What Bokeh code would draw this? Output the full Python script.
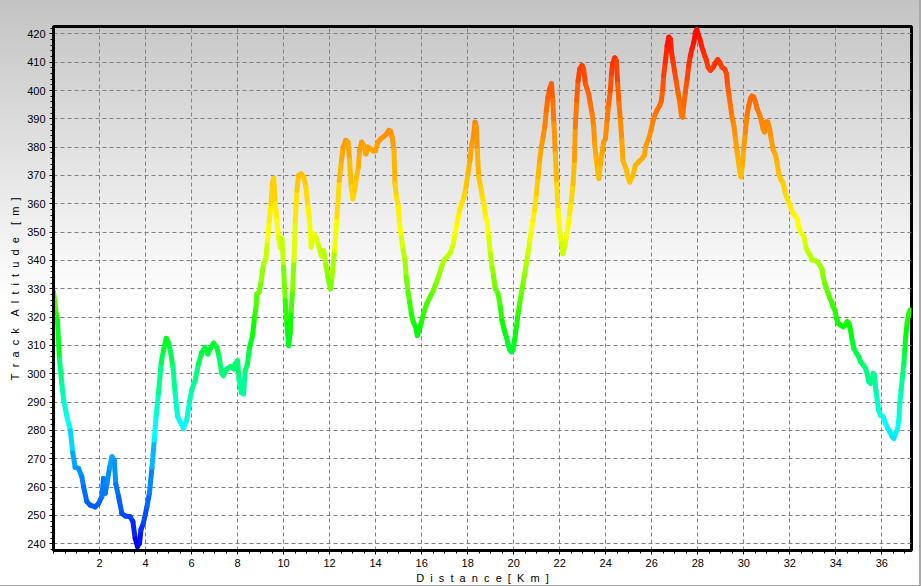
import colorsys
import numpy as np
from bokeh.plotting import figure
from bokeh.models import FixedTicker, Range1d, ColumnDataSource
from bokeh.embed import file_html
from bokeh.resources import INLINE

# ---------------- data ----------------
distance_km = [
    0.0, 0.12, 0.17, 0.26, 0.36, 0.44, 0.58, 0.73, 0.84, 0.94, 1.09, 1.23, 1.31, 1.45, 1.6, 1.81, 1.96,
    2.1, 2.17, 2.25, 2.32, 2.44, 2.54, 2.64, 2.71, 2.83, 2.97, 3.12, 3.33, 3.45, 3.55, 3.65, 3.74, 3.8,
    3.91, 4.06, 4.17, 4.28, 4.38, 4.46, 4.56, 4.68, 4.78, 4.9, 5.0, 5.07, 5.19, 5.29, 5.39, 5.54, 5.65,
    5.79, 5.91, 6.01, 6.16,
    6.3, 6.45, 6.59, 6.71, 6.81, 6.96, 7.1, 7.2, 7.32, 7.39, 7.54, 7.68, 7.83, 7.9, 8.0, 8.07, 8.16, 8.26,
    8.33, 8.43, 8.52, 8.65, 8.74, 8.8, 8.84, 8.94, 9.03, 9.13, 9.23, 9.3, 9.38, 9.45, 9.51, 9.57, 9.64,
    9.71, 9.78, 9.86, 9.93, 10.0, 10.07, 10.14, 10.22, 10.29, 10.33, 10.39, 10.45, 10.51, 10.58, 10.65,
    10.77, 10.88, 10.97, 11.06, 11.13, 11.2, 11.3, 11.41, 11.52, 11.64, 11.74, 11.84, 11.93, 12.03, 12.1,
    12.22, 12.32, 12.42,
    12.52, 12.59, 12.7, 12.8, 12.87, 12.94, 13.01, 13.09, 13.17, 13.25, 13.3, 13.39, 13.49, 13.58, 13.67,
    13.78, 13.9, 14.0, 14.1, 14.22, 14.36, 14.48, 14.58, 14.65, 14.72, 14.8, 14.84, 14.91, 14.99, 15.04,
    15.12, 15.2, 15.28, 15.33, 15.41, 15.48, 15.55, 15.64, 15.74, 15.81, 15.88, 15.99, 16.1, 16.22, 16.36,
    16.51, 16.65, 16.75, 16.86, 16.97, 17.12, 17.26, 17.38, 17.45, 17.55, 17.65, 17.74, 17.84, 17.93,
    18.01, 18.1, 18.17, 18.25, 18.32, 18.38, 18.42, 18.48, 18.57, 18.64, 18.71, 18.78,
    18.84, 18.91, 18.99, 19.06, 19.13, 19.2, 19.32, 19.42, 19.49, 19.59, 19.68, 19.75, 19.83, 19.9, 19.97,
    20.04, 20.12, 20.19, 20.26, 20.33, 20.41, 20.48, 20.55, 20.62, 20.7, 20.77, 20.84, 20.91, 20.99, 21.06,
    21.13, 21.2, 21.28, 21.35, 21.42, 21.49, 21.57, 21.64, 21.7, 21.75, 21.81, 21.87, 21.93, 22.0, 22.07,
    22.14, 22.22, 22.29, 22.36, 22.43, 22.51, 22.58, 22.64, 22.68, 22.74, 22.8, 22.87, 22.97, 23.04, 23.12,
    23.19, 23.26, 23.33, 23.41, 23.48, 23.52, 23.58, 23.65, 23.71, 23.77, 23.84, 23.91, 23.99, 24.06, 24.13,
    24.2, 24.25, 24.3, 24.39, 24.46, 24.52, 24.58, 24.64, 24.7, 24.75, 24.83, 24.9, 24.97, 25.04,
    25.19, 25.29, 25.43, 25.58, 25.68, 25.75, 25.87, 25.97, 26.06, 26.16, 26.23, 26.35, 26.42, 26.48,
    26.52, 26.59, 26.67, 26.74, 26.81, 26.86, 26.93, 27.0, 27.07, 27.14, 27.22, 27.29, 27.35, 27.39, 27.46,
    27.54, 27.61, 27.68, 27.75, 27.83, 27.9, 27.96, 28.01, 28.09, 28.16, 28.23, 28.3, 28.38, 28.45, 28.55,
    28.67, 28.77, 28.87, 28.96, 29.06, 29.17, 29.25, 29.3, 29.36, 29.42, 29.49, 29.57, 29.64, 29.71, 29.77,
    29.83, 29.88, 29.94, 30.0, 30.07, 30.14, 30.22, 30.29, 30.36, 30.43, 30.51, 30.58, 30.7, 30.77, 30.84,
    30.9, 30.97, 31.04, 31.12, 31.19,
    31.28, 31.38, 31.45, 31.52, 31.62, 31.71, 31.81, 31.91, 32.0, 32.1, 32.2, 32.32, 32.39, 32.46, 32.58,
    32.65, 32.71, 32.78, 32.87, 32.97, 33.09, 33.19, 33.3, 33.41, 33.45, 33.52, 33.59, 33.67, 33.74, 33.81,
    33.88, 33.96, 34.03, 34.1, 34.2, 34.32, 34.42, 34.49, 34.57, 34.64, 34.71, 34.78, 34.9, 35.0, 35.07,
    35.19, 35.29, 35.36, 35.43, 35.51, 35.58, 35.62, 35.68, 35.74, 35.8, 35.86, 35.94, 36.06, 36.16, 36.26,
    36.35, 36.45, 36.52, 36.59, 36.67, 36.74, 36.78, 36.84, 36.9, 36.96, 37.0, 37.04, 37.1, 37.16, 37.22,
]

altitude_m = [
    329, 321, 319, 305, 296.6, 290.8, 285, 280, 272, 267, 266.6, 263.7, 260, 254.8, 253.6, 253, 254.2,
    256.6, 263, 257.8, 261, 267, 270.7, 269.5, 261, 256.6, 250.7, 249.8, 249.5, 247.8, 241.9, 239, 240.2, 245,
    247.3, 253, 257.8, 267, 276.6, 285, 293, 303.7, 308.4, 312.5, 310.8, 308.4, 302.5, 293, 285, 282.5, 280.7,
    283.7, 290, 294.3, 297.8,
    303.5, 307.6, 309.3, 307, 308.8, 310.8, 309.3, 305.8, 300, 299.3, 301.7, 302.5, 301.7, 303.5, 304.6, 297.6, 293.4, 292.9,
    301, 303.5, 309.3, 313.5, 320, 323.5, 328.2, 328.8, 332.9, 338.8, 340.6, 347, 354, 360, 367, 369, 360,
    354, 348.2, 344.7, 347.6, 337.6, 325.8, 317.6, 310, 314.6, 322.3, 329.4, 340, 354, 364.7, 370,
    370.6, 369.4, 365.9, 358.8, 354, 344.7, 349.4, 348.2, 345.3, 341.7, 343.5, 338.2, 334.1, 330, 334.1,
    343.5, 355.3, 368.2,
    375.3, 380, 382.4, 381.8, 375.3, 365.9, 361.8, 364.7, 369.4, 372.9, 378.8, 381.8, 380.6, 377.6, 380,
    379.4, 378.6, 378.8, 381.8, 382.9, 383.8, 384.7, 385.9, 385.6, 383.5, 378.8, 367.1, 362.4, 358.8, 352.9,
    348.2, 343.5, 340, 334.1, 328.8, 325.3, 321.2, 318.2, 316.5, 313.5, 315.3, 318.2, 321.8, 324.7, 327.1,
    329.4, 332.4, 334.7, 337.6, 340, 341.4, 342.9, 345.9, 349.4, 353.5, 357.6, 360, 362.4, 365.9,
    370.6, 375.3, 380.6, 383.5, 388.8, 387, 378.8, 369.4, 365.9, 362.4, 360, 355.3,
    354.2, 348.3, 342.4, 337.7, 334.2, 330.1, 328.3, 323.6, 318.9, 315.4, 313, 310.7, 308.4, 307.8, 308.4,
    311.9, 316.6, 321.3, 324.8, 328.3, 331.9, 335.4, 338.9, 342.4, 347.1, 350.7, 354.2, 357.7, 363.6, 369.5,
    375.3, 380, 383.6, 387.1, 393, 397.7, 400.6, 402.4, 396.5, 388.3, 377.7, 367.1, 357.7, 350.7, 346,
    342.4, 344.8, 348.3, 351.8, 356.5, 361.2, 367.1, 375.3, 387.1, 396.5, 403.5, 407.6, 408.8, 407.6, 402.4,
    400.6, 398.8, 395.3, 391.8, 387.1, 381.2, 376.5, 371.8, 368.9, 374.1, 377.7, 381.8, 383, 389.4, 395.3,
    400, 405.9, 409.4, 411.5, 410.5, 402.4, 395.3, 389.4, 382.4, 375.3, 373.6, 371.8, 369.5, 367.7,
    370.1, 373.6, 374.8, 376, 377.1, 380.7, 383, 385.9, 389.5, 391.8, 393, 394.7, 396.5, 400.6,
    405.3, 410, 415.9, 418.8, 418.2, 413.5, 410, 406.5, 403, 399.4, 395.9, 391.2, 390.6, 394.7, 399.4,
    404.1, 408.8, 412.3, 414.7, 417, 420.6, 421.5, 420, 418.2, 415.9, 414.1, 412.3, 410.6, 408.2, 407.1,
    408.2, 409.8, 410.9, 409.8, 408.2, 407.6, 405.9, 401.8, 398.3, 394.7, 390.6, 387.7, 383, 378.3, 374.8,
    371.3, 369.5, 373.6, 379.5, 385.4, 391.2, 394.7, 397.1, 398, 397.7, 395.9, 393.6, 391.2, 388.9, 386.5,
    385.4, 388.9, 388.9, 386.5, 383,
    379, 377.3, 374.3, 370.8, 368.5, 367.3, 363.7, 361.4, 359.6, 357.3, 356.1, 354.9, 352, 350.2, 349,
    347.3, 344.3, 343.1, 342, 340.2, 340, 339.6, 338.4, 336.7, 334.3, 331.9, 330.2, 328.4, 326.6, 325.5,
    323.7, 322.5, 319.6, 317.8, 317.2, 316.6, 317.2, 318.4, 317.8, 315.4, 311.9, 309, 307.2, 306, 304.3,
    303.1, 301.9, 300.1, 297.2, 296.6, 297.2, 300.1, 299.5, 294.3, 290.7, 287.2, 285.4, 284.8, 282.5, 280.7,
    279.5, 277.8, 277.2, 278.9, 280.1, 283.6, 289.5, 294.3, 299, 303.7, 308.4, 313.1, 317.8, 320.8, 322.5,
]

x_ticks = list(range(2, 37, 2))
y_ticks = list(range(240, 421, 10))
x_title_words = ["Distance", "[Km]"]
y_title_words = ["Track", "Altitude", "[m]"]

# altitude -> hue anchors for the colour scale
scale_alt = [240, 250, 270, 280, 300, 310, 330, 350, 370, 380, 400, 420]
scale_hue = [240, 222, 200, 182, 150, 130, 95, 62, 45, 38, 22, 2]


def alt_color(a):
    h = float(np.interp(a, scale_alt, scale_hue)) / 360.0
    r, g, b = colorsys.hsv_to_rgb(h, 1.0, 1.0)
    return "#%02x%02x%02x" % (int(round(r * 255)), int(round(g * 255)), int(round(b * 255)))


def spaced(words, word_gap):
    # letter-spaced title text (two spaces between letters)
    return word_gap.join("\u00a0 ".join(w) for w in words)


xs = np.array(distance_km, dtype=float)
ys = np.array(altitude_m, dtype=float)
seg = ColumnDataSource(dict(
    x0=xs[:-1], y0=ys[:-1], x1=xs[1:], y1=ys[1:],
    c=[alt_color((a + b) / 2) for a, b in zip(ys[:-1], ys[1:])],
))

p = figure(
    width=921, height=586,
    x_range=Range1d(0, 37.29), y_range=Range1d(237.6, 422.6),
    output_backend="svg", toolbar_location=None,
    min_border_left=53, min_border_right=10, min_border_top=26, min_border_bottom=36,
    background_fill_color=None, border_fill_color=None,
    outline_line_color="black", outline_line_width=3,
    styles={
        "background-image": "linear-gradient(to bottom, #c3c3c3 0px, #ffffff 300px, #ffffff 586px)",
        "box-shadow": "inset -2px -1px 0 0 #a8a8a8",
    },
)

p.segment(x0="x0", y0="y0", x1="x1", y1="y1", source=seg,
          line_color="c", line_width=5, line_cap="round")

font = "Liberation Sans"
for ax in (p.xaxis[0], p.yaxis[0]):
    ax.axis_line_color = "black"
    ax.axis_line_width = 3
    ax.major_tick_line_color = "black"
    ax.minor_tick_line_color = "black"
    ax.major_tick_in = 0
    ax.major_tick_out = 4
    ax.minor_tick_in = 0
    ax.minor_tick_out = 3
    ax.major_label_text_font = font
    ax.major_label_text_font_size = "11px"
    ax.major_label_text_color = "black"
    ax.axis_label_text_font = font
    ax.axis_label_text_font_size = "11px"
    ax.axis_label_text_font_style = "normal"
    ax.axis_label_text_color = "black"

p.xaxis.ticker = FixedTicker(ticks=x_ticks, minor_ticks=list(np.arange(0, 37.5, 0.5)))
p.yaxis.ticker = FixedTicker(ticks=y_ticks, minor_ticks=list(np.arange(238, 423, 2)))
p.xaxis.major_label_standoff = 4
p.yaxis.major_label_standoff = 4
p.xaxis.axis_label = spaced(x_title_words, "\u00a0 ")
p.yaxis.axis_label = spaced(y_title_words, "\u00a0 \u00a0 ")
p.xaxis.axis_label_standoff = 2
p.yaxis.axis_label_standoff = 3

for g in (p.xgrid[0], p.ygrid[0]):
    g.grid_line_color = "#808080"
    g.grid_line_width = 1
    g.grid_line_dash = "4 3"
p.xgrid.ticker = FixedTicker(ticks=x_ticks)
p.ygrid.ticker = FixedTicker(ticks=y_ticks)

open("out.html", "w").write(file_html(p, INLINE))
